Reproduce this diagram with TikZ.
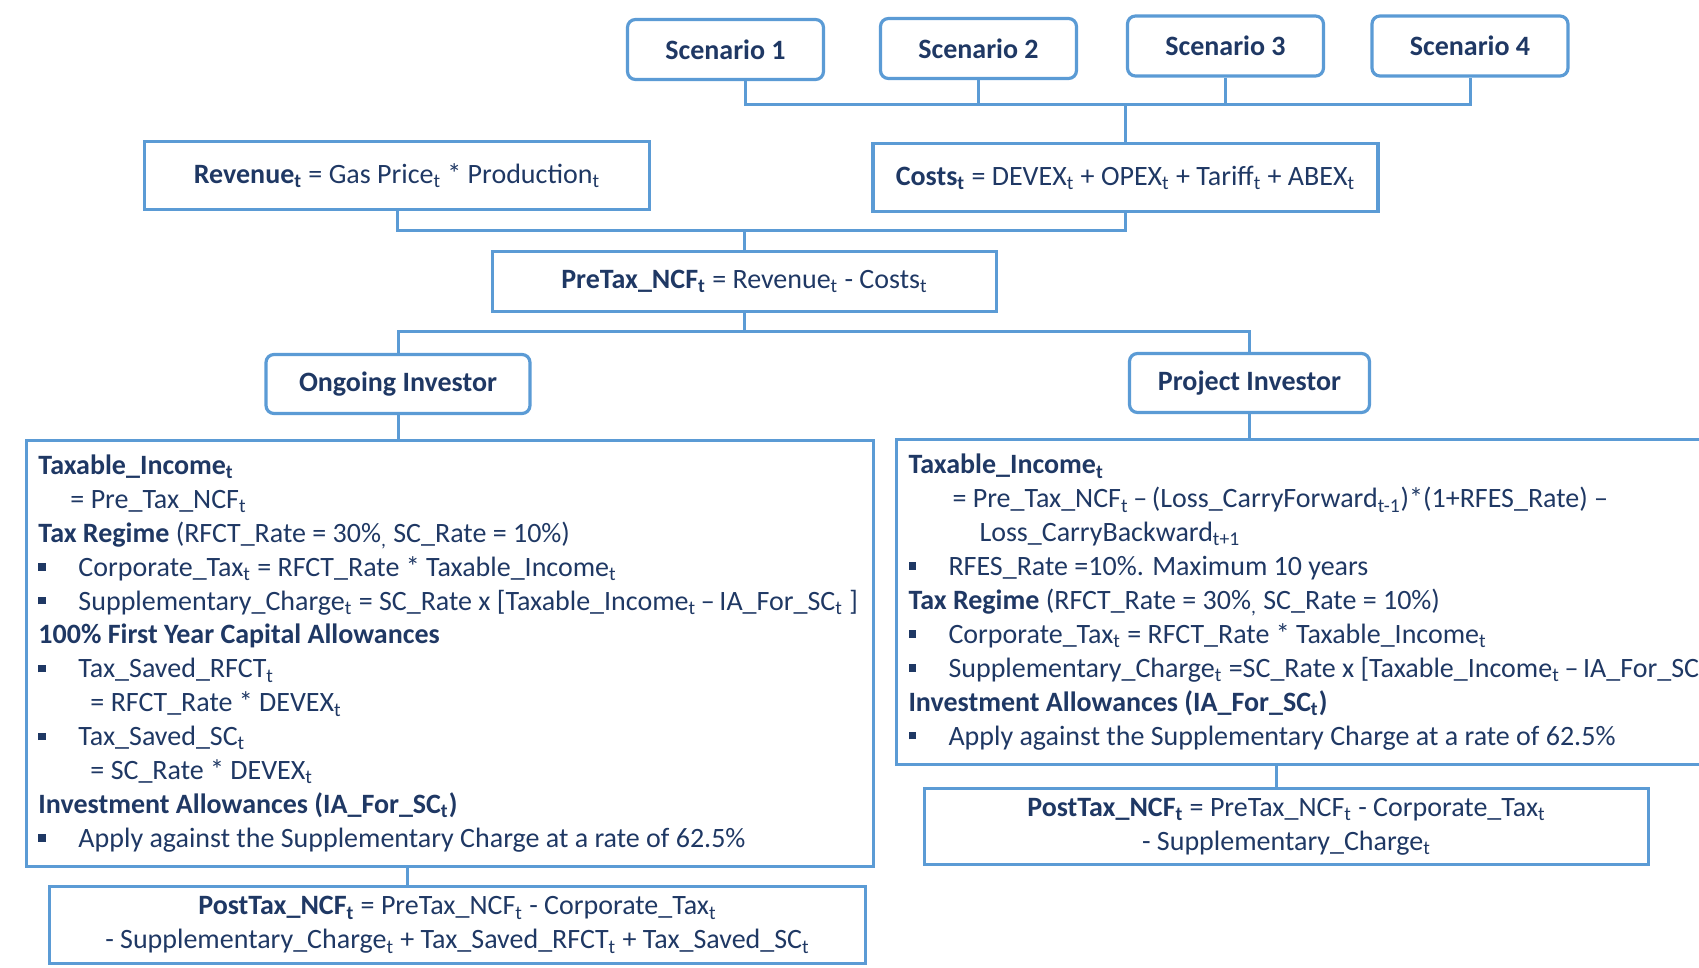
\documentclass[tikz,border=0pt]{standalone}
\usepackage{fontspec}
\setmainfont{Carlito}
\usepackage{xcolor}
\definecolor{fcblue}{RGB}{91,155,213}
\definecolor{fcnavy}{RGB}{31,56,100}
\usetikzlibrary{calc}
\newcommand{\ts}[1]{\textsubscript{#1}}
\newcommand{\bulsq}{\raisebox{0.2em}{\rule{0.27em}{0.27em}}}
\newcommand{\itm}[1]{\mbox{\makebox[20pt][l]{\bulsq}#1}}
\newcommand{\ind}[2]{\mbox{\hspace*{#1}#2}}
\newcommand{\natsp}{\spaceskip=0pt\xspaceskip=0pt\relax}
\newcommand{\boxfont}{\fontsize{14}{16.95}\selectfont}

\begin{document}
\begin{tikzpicture}[x=0.5pt,y=-0.5pt,
  fcbox/.style={draw=fcblue,line width=1.6pt,text=fcnavy,font=\boxfont,align=center,inner sep=0pt},
  fcround/.style={fcbox,rounded corners=4pt,font=\boxfont\bfseries},
  fclist/.style={fcbox,align=left,inner xsep=6pt,text width=#1},
  link/.style={draw=fcblue,line width=1.5pt}
]
  \clip (0,0) rectangle (1699,968);
  % Scenarios
  \node[fcround,minimum width=98pt,minimum height=30pt] (s1) at (725.5,49.5) {Scenario 1};
  \node[fcround,minimum width=98pt,minimum height=30pt] (s2) at (978.5,48.5) {Scenario 2};
  \node[fcround,minimum width=98pt,minimum height=30pt] (s3) at (1225.5,46) {Scenario 3};
  \node[fcround,minimum width=98pt,minimum height=30pt] (s4) at (1470,46) {Scenario 4};
  % Revenue, costs and pre-tax cash flow
  \node[fcbox,minimum width=252.5pt,minimum height=34pt] (rev) at (397,175.5)
    {\textbf{Revenue\ts{t}} = Gas Price\ts{t} * Production\ts{t}};
  \node[fcbox,minimum width=252.5pt,minimum height=34pt] (cost) at (1125.5,177.7)
    {\textbf{Costs\ts{t}} = DEVEX\ts{t} + OPEX\ts{t} + Tariff\ts{t} + ABEX\ts{t}};
  \node[fcbox,minimum width=252pt,minimum height=30pt] (pre) at (744.5,281.5)
    {\textbf{PreTax\_NCF\ts{t}} = Revenue\ts{t} - Costs\ts{t}};
  % Investors
  \node[fcround,minimum width=132pt,minimum height=29.5pt] (ong) at (398,384) {Ongoing Investor};
  \node[fcround,minimum width=120pt,minimum height=29.5pt] (proj) at (1249.5,383) {Project Investor};
  % Tax boxes
  \node[fclist=411.5pt,minimum height=213pt] (lbig) at (450,653.5) {\natsp
    \textbf{Taxable\_Income\ts{t}}\\
    \ind{16pt}{= Pre\_Tax\_NCF\ts{t}}\\
    \mbox{\textbf{Tax Regime} (RFCT\_Rate = 30\%\ts{,} SC\_Rate = 10\%)}\\
    \itm{Corporate\_Tax\ts{t} = RFCT\_Rate * Taxable\_Income\ts{t}}\\
    \itm{Supplementary\_Charge\ts{t} = SC\_Rate x [Taxable\_Income\ts{t}\,--\,IA\_For\_SC\ts{t} ]}\\
    \textbf{100\% First Year Capital Allowances}\\
    \itm{Tax\_Saved\_RFCT\ts{t}}\\
    \ind{26pt}{= RFCT\_Rate * DEVEX\ts{t}}\\
    \itm{Tax\_Saved\_SC\ts{t}}\\
    \ind{26pt}{= SC\_Rate * DEVEX\ts{t}}\\
    \textbf{Investment Allowances (IA\_For\_SC\ts{t})}\\
    \itm{Apply against the Supplementary Charge at a rate of 62.5\%}};
  \node[fclist=411.5pt,minimum height=162.5pt] (rbig) at (1320,602) {\natsp
    \textbf{Taxable\_Income\ts{t}}\\
    \ind{22pt}{= Pre\_Tax\_NCF\ts{t}\,--\,(Loss\_CarryForward\ts{t-1})*(1+RFES\_Rate) --}\\
    \ind{35.5pt}{Loss\_CarryBackward\ts{t+1}}\\
    \itm{RFES\_Rate =10\%. Maximum 10 years}\\
    \mbox{\textbf{Tax Regime} (RFCT\_Rate = 30\%\ts{,} SC\_Rate = 10\%)}\\
    \itm{Corporate\_Tax\ts{t} = RFCT\_Rate * Taxable\_Income\ts{t}}\\
    \itm{Supplementary\_Charge\ts{t} =SC\_Rate x [Taxable\_Income\ts{t}\,--\,IA\_For\_SC\ts{t} ]}\\
    \textbf{Investment Allowances (IA\_For\_SC\ts{t})}\\
    \itm{Apply against the Supplementary Charge at a rate of 62.5\%}};
  % Post-tax cash flow
  \node[fcbox,minimum width=408pt,minimum height=38.5pt] (lpost) at (457.5,925)
    {\textbf{PostTax\_NCF\ts{t}} = PreTax\_NCF\ts{t} - Corporate\_Tax\ts{t}\\
     - Supplementary\_Charge\ts{t} + Tax\_Saved\_RFCT\ts{t} + Tax\_Saved\_SC\ts{t}};
  \node[fcbox,minimum width=362pt,minimum height=38pt] (rpost) at (1286.5,826.5)
    {\textbf{PostTax\_NCF\ts{t}} = PreTax\_NCF\ts{t} - Corporate\_Tax\ts{t}\\
     - Supplementary\_Charge\ts{t}};
  % Connectors
  \coordinate (bus1) at (1125.5,105);
  \coordinate (bus2) at (744.5,231);
  \coordinate (bus3) at (744.5,331.5);
  \draw[link] ([xshift=10pt]s1.south) |- (bus1) -| (s4.south);
  \draw[link] (s2.south) -- (s2.south |- bus1);
  \draw[link] (s3.south) -- (s3.south |- bus1);
  \draw[link] (bus1) -- (cost.north);
  \draw[link] (rev.south) |- (bus2) -| (cost.south);
  \draw[link] (bus2) -- (pre.north);
  \draw[link] (pre.south) -- (bus3);
  \draw[link] (ong.north) |- (bus3) -| (proj.north);
  \draw[link] (ong.south) -- (ong.south |- lbig.north);
  \draw[link] (proj.south) -- (proj.south |- rbig.north);
  \draw[link] ([xshift=-25pt]lpost.north) -- ([xshift=-25pt]lpost.north |- lbig.south);
  \draw[link] ([xshift=-5pt]rpost.north) -- ([xshift=-5pt]rpost.north |- rbig.south);
\end{tikzpicture}
\end{document}
